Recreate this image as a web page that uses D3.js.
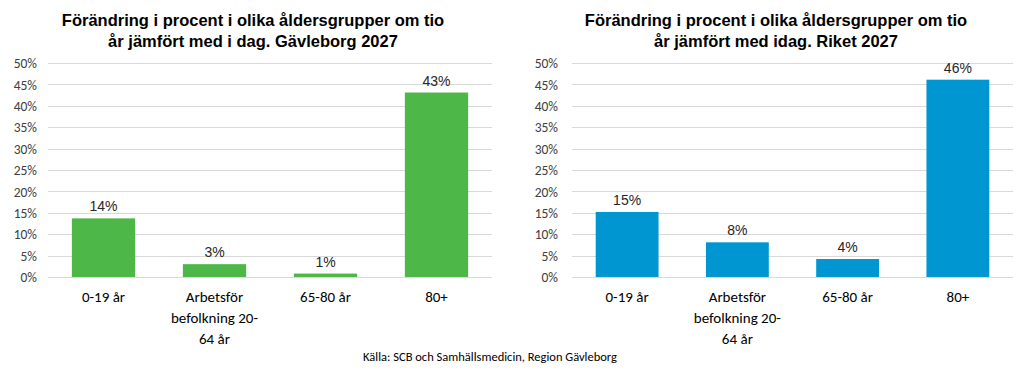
<!DOCTYPE html>
<html><head><meta charset="utf-8">
<script src="https://cdn.jsdelivr.net/npm/d3@7"></script>
<style>body{margin:0;background:#fff;}svg{display:block;}</style>
</head><body>
<svg id="c" width="1023" height="378"></svg>
<script>
const categories = ["0-19 år", "Arbetsför befolkning 20-64 år", "65-80 år", "80+"];
const categoryLines = [["0-19 år"], ["Arbetsför", "befolkning 20-", "64 år"], ["65-80 år"], ["80+"]];
const gavleborgValues = [0.137, 0.030, 0.008, 0.431];
const riketValues = [0.152, 0.081, 0.042, 0.461];
const gavleborgLabels = ["14%", "3%", "1%", "43%"];
const riketLabels = ["15%", "8%", "4%", "46%"];
const yTicks = [0, 0.05, 0.10, 0.15, 0.20, 0.25, 0.30, 0.35, 0.40, 0.45, 0.50];
const titleGavleborg = ["Förändring i procent i olika åldersgrupper om tio", "år jämfört med i dag. Gävleborg 2027"];
const titleRiket = ["Förändring i procent i olika åldersgrupper om tio", "år jämfört med idag. Riket 2027"];
const sourceText = "Källa: SCB och Samhällsmedicin, Region Gävleborg";

const svg = d3.select("#c");

function drawChart(opts) {
  const g = svg.append("g");
  const x = d3.scaleBand().domain(categories).range([opts.x0, opts.x1]).paddingInner(0.43).paddingOuter(0.215);
  const y = d3.scaleLinear().domain([0, 0.5]).range([277, 63]);

  // gridlines
  g.selectAll("line.grid").data(yTicks).join("line")
    .attr("x1", opts.x0).attr("x2", opts.x1)
    .attr("y1", d => Math.round(y(d)) + 0.5).attr("y2", d => Math.round(y(d)) + 0.5)
    .attr("stroke", "#d9d9d9").attr("stroke-width", 1);

  // y axis tick labels
  const yAxis = d3.axisLeft(y).tickValues(yTicks).tickFormat(d3.format(".0%")).tickSize(0).tickPadding(0);
  const ya = g.append("g").attr("transform", `translate(${opts.labelX},0)`).call(yAxis);
  ya.select(".domain").remove();
  ya.selectAll("text").attr("font-family", "Carlito, Calibri, Lato, sans-serif").attr("font-size", 13.5).attr("fill", "#404040").attr("dy", "0.35em");

  // bars
  g.selectAll("rect.bar").data(opts.values).join("rect")
    .attr("x", (d, i) => x(categories[i])).attr("width", x.bandwidth())
    .attr("y", d => y(d)).attr("height", d => y(0) - y(d))
    .attr("fill", opts.color);

  // data labels
  g.selectAll("text.dl").data(opts.values).join("text")
    .attr("x", (d, i) => x(categories[i]) + x.bandwidth() / 2)
    .attr("y", d => y(d) - 7)
    .attr("text-anchor", "middle")
    .attr("font-family", "Liberation Sans, Arial, sans-serif").attr("font-size", 14)
    .attr("fill", "#262626")
    .text((d, i) => opts.labels[i]);

  // category labels
  categoryLines.forEach((lines, i) => {
    const cx = x(categories[i]) + x.bandwidth() / 2;
    lines.forEach((ln, j) => {
      g.append("text").attr("x", cx).attr("y", 302 + j * 21)
        .attr("text-anchor", "middle")
        .attr("font-family", "Carlito, Calibri, Lato, sans-serif").attr("font-size", 15)
        .attr("fill", "#000").text(ln);
    });
  });

  // title
  opts.title.forEach((t, j) => {
    g.append("text").attr("x", opts.titleX).attr("y", 26 + j * 21)
      .attr("text-anchor", "middle")
      .attr("font-family", "Liberation Sans, Arial, sans-serif").attr("font-weight", "bold").attr("font-size", 16.5)
      .attr("fill", "#000").text(t);
  });
}

drawChart({x0: 48, x1: 492, labelX: 37, values: gavleborgValues, labels: gavleborgLabels, color: "#4DB848", title: titleGavleborg, titleX: 253});
drawChart({x0: 572, x1: 1013, labelX: 558, values: riketValues, labels: riketLabels, color: "#0096D1", title: titleRiket, titleX: 776});

svg.append("text").attr("x", 490).attr("y", 361).attr("text-anchor", "middle")
  .attr("font-family", "Carlito, Calibri, Lato, sans-serif").attr("font-size", 12.5)
  .attr("fill", "#000").text(sourceText);
</script>
</body></html>
